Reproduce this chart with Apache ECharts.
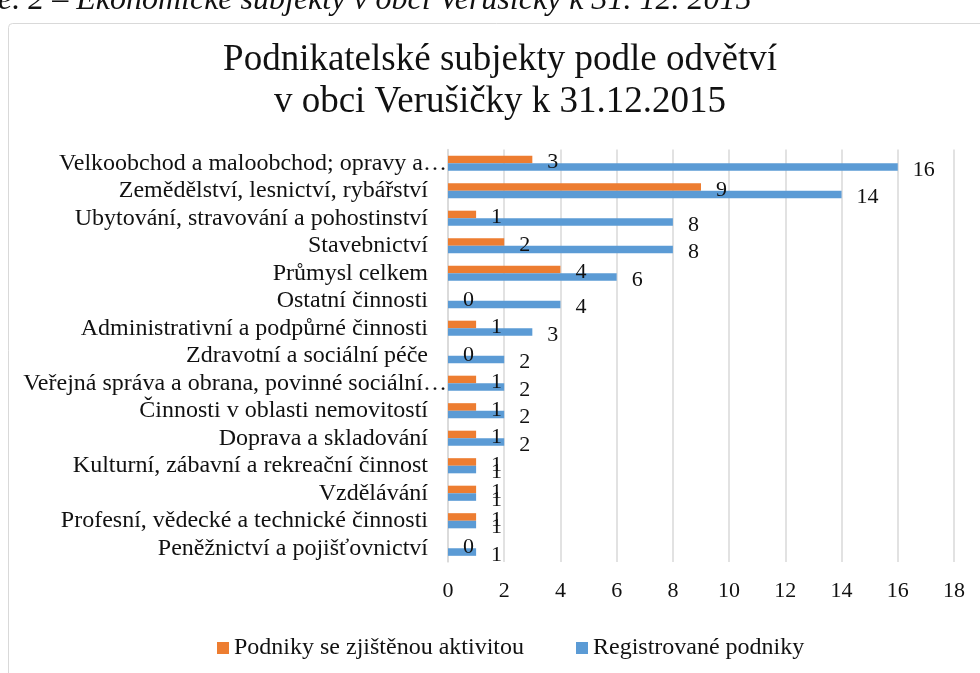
<!DOCTYPE html>
<html>
<head>
<meta charset="utf-8">
<script src="https://cdn.jsdelivr.net/npm/echarts@6/dist/echarts.min.js"></script>
<style>
html,body{margin:0;padding:0;background:#fff;}
#chart{width:980px;height:673px;}
</style>
</head>
<body>
<div id="chart"></div>
<script>
// Categories listed bottom-to-top (ECharts category y axis starts at the bottom)
const categories = [
  "Peněžnictví a pojišťovnictví",
  "Profesní, vědecké a technické činnosti",
  "Vzdělávání",
  "Kulturní, zábavní a rekreační činnost",
  "Doprava a skladování",
  "Činnosti v oblasti nemovitostí",
  "Veřejná správa a obrana, povinné sociální…",
  "Zdravotní a sociální péče",
  "Administrativní a podpůrné činnosti",
  "Ostatní činnosti",
  "Průmysl celkem",
  "Stavebnictví",
  "Ubytování, stravování a pohostinství",
  "Zemědělství, lesnictví, rybářství",
  "Velkoobchod a maloobchod; opravy a…"
];
const activeValues = [0, 1, 1, 1, 1, 1, 1, 0, 1, 0, 4, 2, 1, 9, 3];
const registeredValues = [1, 1, 1, 1, 2, 2, 2, 2, 3, 4, 6, 8, 8, 14, 16];
const seriesNames = ["Podniky se zjištěnou aktivitou", "Registrované podniky"];
const xTicks = [0, 2, 4, 6, 8, 10, 12, 14, 16, 18];
const titleLines = ["Podnikatelské subjekty podle odvětví", "v obci Verušičky k 31.12.2015"];
const captionText = "e. 2 – Ekonomické subjekty v obci Verušičky k 31. 12. 2015";

const FONT = "'Liberation Serif','Times New Roman',serif";
const TXT = "#111";
const chart = echarts.init(document.getElementById('chart'));

const labelCfg = {
  show: true, position: 'right', distance: 15, offset: [0, 3],
  fontFamily: FONT, fontSize: 22, color: TXT
};

chart.setOption({
  animation: false,
  backgroundColor: '#fff',
  graphic: [
    { type: 'rect', shape: { x: 8.5, y: 23.5, width: 1100, height: 800, r: 4 },
      style: { fill: 'none', stroke: '#d9d9d9', lineWidth: 1 }, z: -10 },
    { type: 'text', left: -2, top: -15,
      style: { text: captionText, font: "italic 32px 'Liberation Serif', serif", fill: TXT } },
    { type: 'text', x: 500, y: 39,
      style: { text: titleLines.join('\n'), font: "37px 'Liberation Serif', serif",
               fill: TXT, align: 'center', verticalAlign: 'top', lineHeight: 42 } }
  ],
  legend: {
    data: seriesNames,
    left: 212, top: 631,
    itemWidth: 12, itemHeight: 12, itemGap: 52,
    icon: 'rect',
    textStyle: { fontFamily: FONT, fontSize: 24, color: TXT }
  },
  grid: { left: 448, right: 26, top: 149.5, bottom: 111, containLabel: false },
  xAxis: {
    type: 'value', min: xTicks[0], max: xTicks[xTicks.length - 1], interval: 2,
    axisLine: { show: false }, axisTick: { show: false },
    splitLine: { show: true, lineStyle: { color: '#d9d9d9', width: 1.5 } },
    axisLabel: { fontFamily: FONT, fontSize: 22, color: TXT, margin: 18, lineHeight: 22 }
  },
  yAxis: {
    type: 'category', data: categories,
    axisLine: { show: true, lineStyle: { color: '#d9d9d9', width: 1.5 } },
    axisTick: { show: false },
    axisLabel: {
      interval: 0, margin: 1,
      formatter: v => v.endsWith('…') ? '{t|' + v + '}' : '{t|' + v + '}{s| }',
      rich: {
        t: { fontFamily: FONT, fontSize: 24, color: TXT },
        s: { width: 19, fontSize: 24 }
      }
    }
  },
  series: [
    { name: seriesNames[0], type: 'bar', data: activeValues,
      itemStyle: { color: '#ED7D31' }, barGap: '0%', barCategoryGap: '45%',
      label: labelCfg },
    { name: seriesNames[1], type: 'bar', data: registeredValues,
      itemStyle: { color: '#5B9BD5' }, barGap: '0%', barCategoryGap: '45%',
      label: labelCfg }
  ]
});
</script>
</body>
</html>
